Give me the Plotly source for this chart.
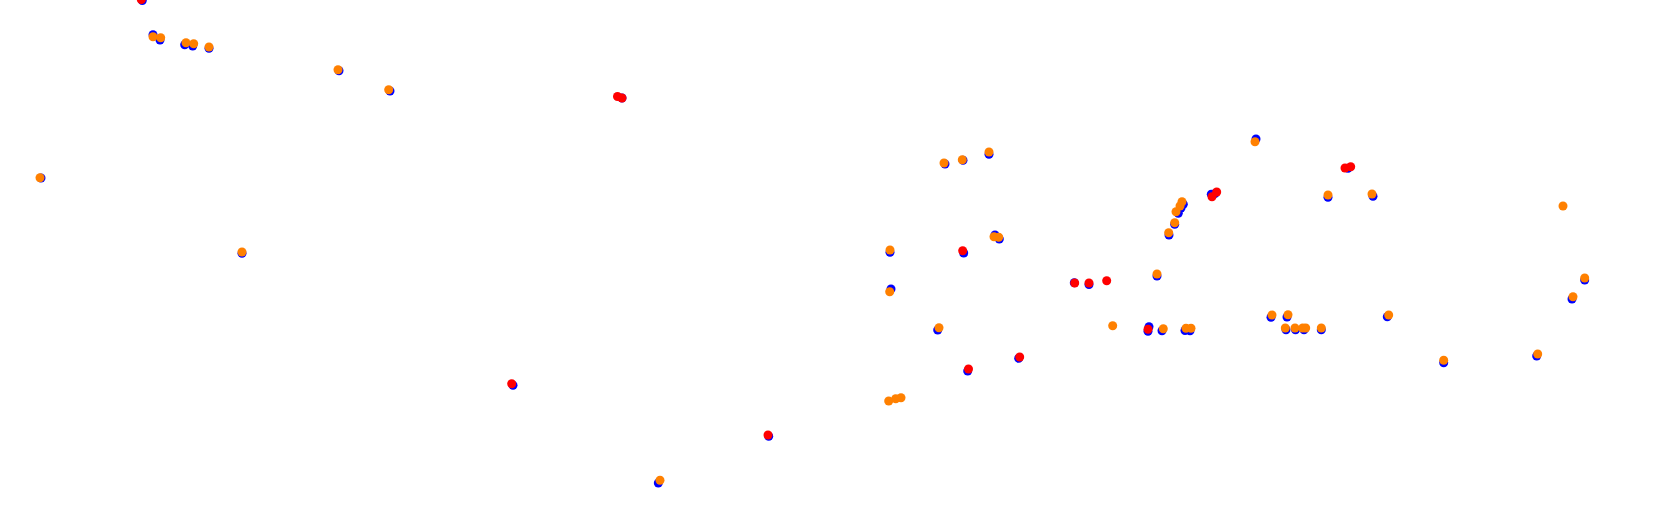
import plotly.graph_objects as go

# Series positions (plot units: x to the right, y downward)
blue_x = [41, 153, 160, 184.7, 192.7, 209, 339, 390, 242, 658.3,
          890, 891, 937.7, 945, 963, 989, 995, 999.3, 1157, 1162,
          1185, 1190, 1183.3, 1181, 1178.3, 1174.7, 1169, 1256, 1328, 1373,
          1584.7, 1572, 1271, 1287, 1387.3, 1286, 1295.5, 1304, 1321.3, 1443.7,
          1536.7, 142.3, 622, 513, 768.7, 963.7, 967.7, 1018.7, 1074.3, 1089,
          1149, 1148, 1211.3, 1215, 1348]
blue_y = [178, 34.7, 40, 44.7, 46, 48.3, 70.7, 91, 253.3, 483,
          252.3, 289, 330, 164, 160.3, 154.3, 235, 239, 276, 330.7,
          330.5, 330.7, 204.3, 208, 213.3, 224.3, 235, 139, 197.3, 196.3,
          280, 299, 317.3, 317, 316.7, 329.7, 329.7, 329.7, 329.7, 362.7,
          356, 0.5, 98, 385.3, 436.3, 253, 371, 358.3, 282.7, 284.5,
          326.7, 331.3, 194.3, 193.5, 168.3]

red_x = [141.3, 617.5, 622, 511.7, 768, 962.7, 968.5, 1019.7, 1074.7, 1089,
         1106.7, 1148, 1216.7, 1212, 1345, 1350.7]
red_y = [-0.5, 96.5, 98, 383.7, 435, 250.7, 369, 357, 283, 283,
         280.7, 329.3, 192, 196.7, 168, 166.7]

orange_x = [40, 153, 160.7, 186, 193.7, 209, 338, 388.7, 242, 660,
            888.7, 895.7, 901, 890, 889.7, 939, 944, 962.3, 989, 994,
            998.7, 1157, 1112.7, 1163.3, 1186, 1191, 1182, 1180, 1176, 1174.7,
            1168.7, 1255, 1328, 1372, 1563, 1584.7, 1573, 1272, 1288, 1388.7,
            1285.3, 1295, 1302.7, 1305.7, 1321.3, 1443.7, 1537.7]
orange_y = [177.7, 36.7, 37.7, 42.7, 43.7, 47, 69.7, 89.7, 252, 480.3,
            401, 398.7, 397.7, 250, 291.7, 327.7, 163, 159.7, 152, 236.7,
            237.3, 274, 325.7, 328.7, 328.3, 328.3, 201.7, 206, 211.7, 222.7,
            232.7, 141.7, 195, 194, 206, 278, 296.7, 315, 314.7, 315,
            328, 328, 328, 328, 328, 360.3, 354]

MS = 9
fig = go.Figure()
fig.add_trace(go.Scatter(x=blue_x, y=blue_y, mode="markers",
                         marker=dict(color="#0000ff", size=MS), showlegend=False))
fig.add_trace(go.Scatter(x=red_x, y=red_y, mode="markers",
                         marker=dict(color="#ff0000", size=MS), showlegend=False))
fig.add_trace(go.Scatter(x=orange_x, y=orange_y, mode="markers",
                         marker=dict(color="#ff8000", size=MS), showlegend=False))

fig.update_layout(
    width=1680, height=526,
    margin=dict(l=0, r=0, t=0, b=0),
    paper_bgcolor="white", plot_bgcolor="white",
    xaxis=dict(range=[0, 1680], visible=False, fixedrange=True),
    yaxis=dict(range=[526, 0], visible=False, fixedrange=True),
)
fig.write_html("out.html", config={"displayModeBar": False},
               post_script="document.body.style.margin='0';document.body.style.overflow='hidden';")
